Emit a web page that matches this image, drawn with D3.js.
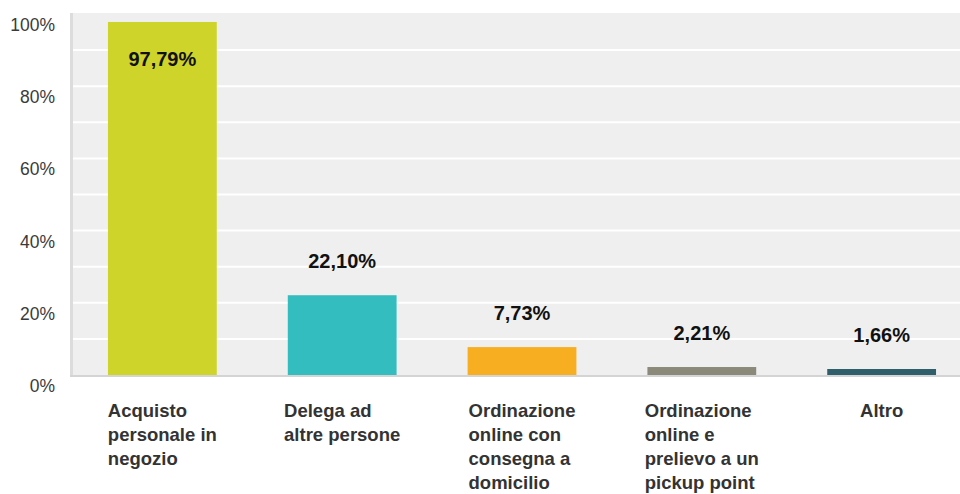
<!DOCTYPE html>
<html>
<head>
<meta charset="utf-8">
<script src="https://cdn.jsdelivr.net/npm/d3@7"></script>
<style>
  body { margin: 0; background: #fff; }
  svg { display: block; font-family: "Liberation Sans", Arial, sans-serif; }
</style>
</head>
<body>
<div class="chart"></div>
<script>
// data
var categories = [
  ["Acquisto", "personale in", "negozio"],
  ["Delega ad", "altre persone"],
  ["Ordinazione", "online con", "consegna a", "domicilio"],
  ["Ordinazione", "online e", "prelievo a un", "pickup point"],
  ["Altro"]
];
var values = [97.79, 22.10, 7.73, 2.21, 1.66];
var valueLabels = ["97,79%", "22,10%", "7,73%", "2,21%", "1,66%"];
var colors = ["#cfd42a", "#33bdbf", "#f7ae20", "#8b8a7a", "#2f5f6b"];
var yTicks = [0, 20, 40, 60, 80, 100];
var gridTicks = [10, 20, 30, 40, 50, 60, 70, 80, 90];

// layout (window.top is reserved, so prefix these)
var W = 960, H = 494;
var plotLeft = 72, plotTop = 14, plotBottom = 375, plotRight = 972;

var svg = d3.select('.chart')
  .append('svg')
  .attr('width', W)
  .attr('height', H);

var x = d3.scaleBand()
  .domain(d3.range(values.length))
  .range([plotLeft, plotRight])
  .paddingInner(0.395)
  .paddingOuter(0.2);

var y = d3.scaleLinear()
  .domain([0, 100])
  .range([plotBottom, plotTop]);

// background
svg.append('rect')
  .attr('x', plotLeft)
  .attr('y', plotTop - 1)
  .attr('width', plotRight - plotLeft)
  .attr('height', plotBottom - plotTop + 1)
  .style('fill', '#efefef');

// gridlines
svg.selectAll('.grid')
  .data(gridTicks)
  .enter()
  .append('line')
  .attr('class', 'grid')
  .attr('x1', plotLeft)
  .attr('x2', plotRight)
  .attr('y1', function(d){ return y(d); })
  .attr('y2', function(d){ return y(d); })
  .style('stroke', '#fff')
  .style('stroke-width', 2);

// left border + bottom axis line
svg.append('rect')
  .attr('x', plotLeft - 2)
  .attr('y', plotTop - 1)
  .attr('width', 3)
  .attr('height', plotBottom - plotTop + 3)
  .style('fill', '#dcdcdc');
svg.append('rect')
  .attr('x', plotLeft - 2)
  .attr('y', plotBottom)
  .attr('width', plotRight - plotLeft + 2)
  .attr('height', 2)
  .style('fill', '#d4d4d4');

// y tick labels
svg.selectAll('.ytick')
  .data(yTicks)
  .enter()
  .append('text')
  .attr('class', 'ytick')
  .attr('x', 55)
  .attr('y', function(d){ return y(d) + 17; })
  .attr('text-anchor', 'end')
  .style('font-size', '17.5px')
  .style('fill', '#3a3a3a')
  .text(function(d){ return d + '%'; });

// bars
svg.selectAll('.bar')
  .data(values)
  .enter()
  .append('rect')
  .attr('class', 'bar')
  .attr('x', function(d, i){ return x(i); })
  .attr('y', function(d){ return y(d); })
  .attr('width', x.bandwidth())
  .attr('height', function(d){ return plotBottom - y(d); })
  .style('fill', function(d, i){ return colors[i]; });

// value labels
svg.selectAll('.val')
  .data(values)
  .enter()
  .append('text')
  .attr('class', 'val')
  .attr('x', function(d, i){ return x(i) + x.bandwidth() / 2; })
  .attr('y', function(d){
    var t = y(d);
    return (t - 34 < plotTop + 20) ? t + 44 : t - 27;
  })
  .attr('text-anchor', 'middle')
  .style('font-size', '20px')
  .style('font-weight', 'bold')
  .style('fill', '#111')
  .text(function(d, i){ return valueLabels[i]; });

// category labels: left aligned lines, block centered on bar
var catGroups = svg.selectAll('.cat')
  .data(categories)
  .enter()
  .append('text')
  .attr('class', 'cat')
  .style('font-size', '18.5px')
  .style('font-weight', 'bold')
  .style('fill', '#333');

catGroups.each(function(lines, i){
  var t = d3.select(this);
  var widest = 0;
  lines.forEach(function(line, j){
    var sp = t.append('tspan')
      .attr('x', 0)
      .attr('y', 417 + j * 24)
      .text(line);
    widest = Math.max(widest, sp.node().getComputedTextLength());
  });
  var x0 = x(i) + x.bandwidth() / 2 - widest / 2;
  t.selectAll('tspan').attr('x', x0);
});
</script>
</body>
</html>
